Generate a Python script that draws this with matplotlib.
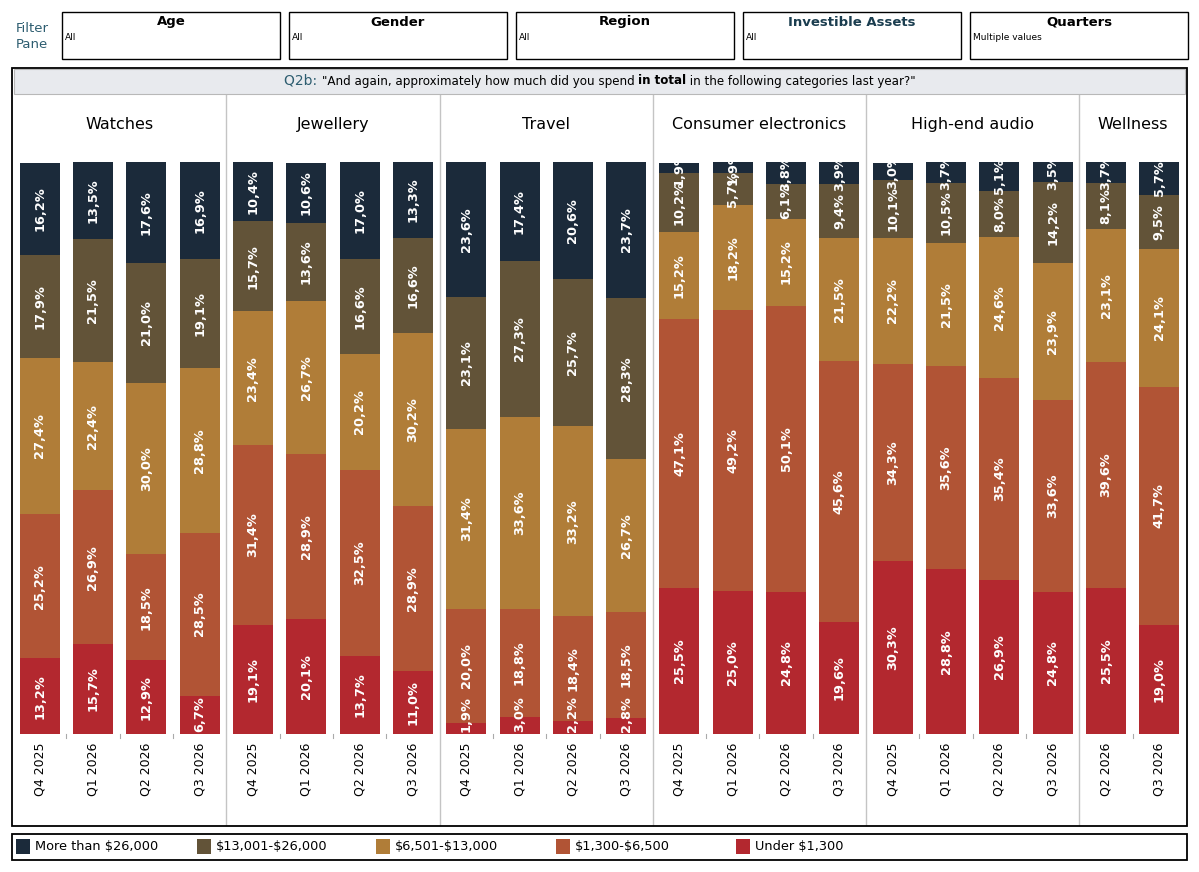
import matplotlib.pyplot as plt
from matplotlib.patches import Rectangle
from matplotlib.lines import Line2D
import matplotlib.transforms as mtransforms

# categories and the quarters shown for each one
categories = ["Watches", "Jewellery", "Travel", "Consumer electronics", "High-end audio", "Wellness"]
cat_quarters = [
    ["Q4 2025", "Q1 2026", "Q2 2026", "Q3 2026"],
    ["Q4 2025", "Q1 2026", "Q2 2026", "Q3 2026"],
    ["Q4 2025", "Q1 2026", "Q2 2026", "Q3 2026"],
    ["Q4 2025", "Q1 2026", "Q2 2026", "Q3 2026"],
    ["Q4 2025", "Q1 2026", "Q2 2026", "Q3 2026"],
    ["Q2 2026", "Q3 2026"],
]

# spend bands, bottom of stack first
bands = ["Under $1,300", "$1,300-$6,500", "$6,501-$13,000", "$13,001-$26,000", "More than $26,000"]
band_colors = ["#b3282f", "#b15435", "#b07d38", "#625338", "#1b2a3a"]

under_1300 = [13.2, 15.7, 12.9, 6.7, 19.1, 20.1, 13.7, 11.0, 1.9, 3.0, 2.2, 2.8,
              25.5, 25.0, 24.8, 19.6, 30.3, 28.8, 26.9, 24.8, 25.5, 19.0]
s1300_6500 = [25.2, 26.9, 18.5, 28.5, 31.4, 28.9, 32.5, 28.9, 20.0, 18.8, 18.4, 18.5,
              47.1, 49.2, 50.1, 45.6, 34.3, 35.6, 35.4, 33.6, 39.6, 41.7]
s6501_13000 = [27.4, 22.4, 30.0, 28.8, 23.4, 26.7, 20.2, 30.2, 31.4, 33.6, 33.2, 26.7,
               15.2, 18.2, 15.2, 21.5, 22.2, 21.5, 24.6, 23.9, 23.1, 24.1]
s13001_26000 = [17.9, 21.5, 21.0, 19.1, 15.7, 13.6, 16.6, 16.6, 23.1, 27.3, 25.7, 28.3,
                10.2, 5.7, 6.1, 9.4, 10.1, 10.5, 8.0, 14.2, 8.1, 9.5]
over_26000 = [16.2, 13.5, 17.6, 16.9, 10.4, 10.6, 17.0, 13.3, 23.6, 17.4, 20.6, 23.7,
              1.9, 1.9, 3.8, 3.9, 3.0, 3.7, 5.1, 3.5, 3.7, 5.7]
series = [under_1300, s1300_6500, s6501_13000, s13001_26000, over_26000]

filters = ["Age", "Gender", "Region", "Investible Assets", "Quarters"]
filter_values = ["All", "All", "All", "All", "Multiple values"]

plt.rcParams["text.parse_math"] = False

W, H = 1199, 872
fig = plt.figure(figsize=(W / 100, H / 100), dpi=100)


def fx(px):
    return px / W


def fy(py):
    return 1 - py / H


teal = "#2d5d70"

# ---- filter pane ----
fig.text(fx(32), fy(28), "Filter", ha="center", va="center", fontsize=9.5, color=teal)
fig.text(fx(32), fy(44), "Pane", ha="center", va="center", fontsize=9.5, color=teal)
box_x = [62, 289, 516, 743, 970]
for i, (name, val) in enumerate(zip(filters, filter_values)):
    x0 = box_x[i]
    fig.patches.append(Rectangle((fx(x0), fy(59)), fx(218), 47 / H, transform=fig.transFigure,
                                 fill=False, edgecolor="black", linewidth=1))
    col = "#1a3d4f" if name == "Investible Assets" else "black"
    fig.text(fx(x0 + 109), fy(22), name, ha="center", va="center", fontsize=9.5,
             fontweight="bold", color=col)
    fig.text(fx(x0 + 3), fy(37), val, ha="left", va="center", fontsize=6.5)

# ---- outer frame and title bar ----
fig.patches.append(Rectangle((fx(12), fy(826)), fx(1175), 758 / H, transform=fig.transFigure,
                             fill=False, edgecolor="black", linewidth=1.3, zorder=5))
fig.patches.append(Rectangle((fx(14), fy(94)), fx(1171), 25 / H, transform=fig.transFigure,
                             facecolor="#e8eaee", edgecolor="#b8b8b8", linewidth=0.8))

# title built from pieces so "in total" can be bold
pieces = [("Q2b: ", teal, "normal", 10),
          ('"And again, approximately how much did you spend ', "black", "normal", 8.6),
          ("in total", "black", "bold", 8.6),
          (' in the following categories last year?"', "black", "normal", 8.6)]
renderer = fig.canvas.get_renderer()
tobjs = []
for txt, c, w, s in pieces:
    t = fig.text(0, fy(81), txt, ha="left", va="center", color=c, fontweight=w, fontsize=s)
    tobjs.append(t)
widths = [t.get_window_extent(renderer).width for t in tobjs]
x = 600 - sum(widths) / 2
for t, wd in zip(tobjs, widths):
    t.set_x(fx(x))
    x += wd

# ---- main axes ----
ax_left, ax_right, ax_top, ax_bot = 13, 1186, 162, 734
ax = fig.add_axes([fx(ax_left), fy(ax_bot), fx(ax_right - ax_left), (ax_bot - ax_top) / H])

xlabels = [q for qs in cat_quarters for q in qs]
xpos = list(range(len(xlabels)))
bottom = [0.0] * len(xpos)
bar_texts = []
for vals, col in zip(series, band_colors):
    ax.bar(xpos, vals, bottom=bottom, width=0.75, color=col, linewidth=0)
    for xi, v, b in zip(xpos, vals, bottom):
        t = ax.text(xi, b + v / 2, f"{v:.1f}%".replace(".", ","), rotation=90,
                    ha="center", va="center", color="white", fontsize=9.3,
                    fontweight="bold", clip_on=True)
        bar_texts.append(t)
    bottom = [b + v for b, v in zip(bottom, vals)]

ax.set_xlim(-0.5, len(xpos) - 0.5)
ax.set_ylim(0, 100)
ax.set_yticks([])
ax.set_xticks(xpos)
ax.set_xticklabels(xlabels, rotation=90, fontsize=9)
ax.tick_params(axis="x", length=0, pad=6)
for s in ax.spines.values():
    s.set_visible(False)

# dividers between categories, small ticks between quarters, panel headers
trans = mtransforms.blended_transform_factory(ax.transData, ax.transAxes)
ax_h = ax_bot - ax_top
start = 0
for i, (cat, qs) in enumerate(zip(categories, cat_quarters)):
    end = start + len(qs)
    ax.text((start + end - 1) / 2, (ax_bot - 124) / ax_h, cat, transform=trans,
            ha="center", va="center", fontsize=11.5)
    for k in range(start, end - 1):
        ax.add_line(Line2D([k + 0.5, k + 0.5], [0, -4 / ax_h], transform=trans,
                           color="#aaaaaa", linewidth=0.8, clip_on=False))
    if i < len(categories) - 1:
        ax.add_line(Line2D([end - 0.5, end - 0.5], [(ax_bot - 825) / ax_h, (ax_bot - 95) / ax_h],
                           transform=trans, color="#c4c4c4", linewidth=1, clip_on=False))
    start = end

# keep labels of tiny bottom segments inside the pane
fig.canvas.draw()
ax_bbox = ax.get_window_extent(renderer)
for t in bar_texts:
    bb = t.get_window_extent(renderer)
    if bb.y0 < ax_bbox.y0 + 2:
        inv = ax.transData.inverted()
        y0 = inv.transform((0, ax_bbox.y0 + 2))[1]
        t.set_y(y0)
        t.set_va("bottom")

# ---- legend ----
fig.patches.append(Rectangle((fx(12), fy(860)), fx(1175), 26 / H, transform=fig.transFigure,
                             fill=False, edgecolor="black", linewidth=1.3))
leg_x = [16, 197, 376, 556, 736]
for lx, name, col in zip(leg_x, bands[::-1], band_colors[::-1]):
    fig.patches.append(Rectangle((fx(lx), fy(854)), fx(14), 15 / H, transform=fig.transFigure,
                                 facecolor=col, edgecolor="none"))
    fig.text(fx(lx + 19), fy(846.5), name, ha="left", va="center", fontsize=9.3)

fig.savefig("out.png", dpi=100)
